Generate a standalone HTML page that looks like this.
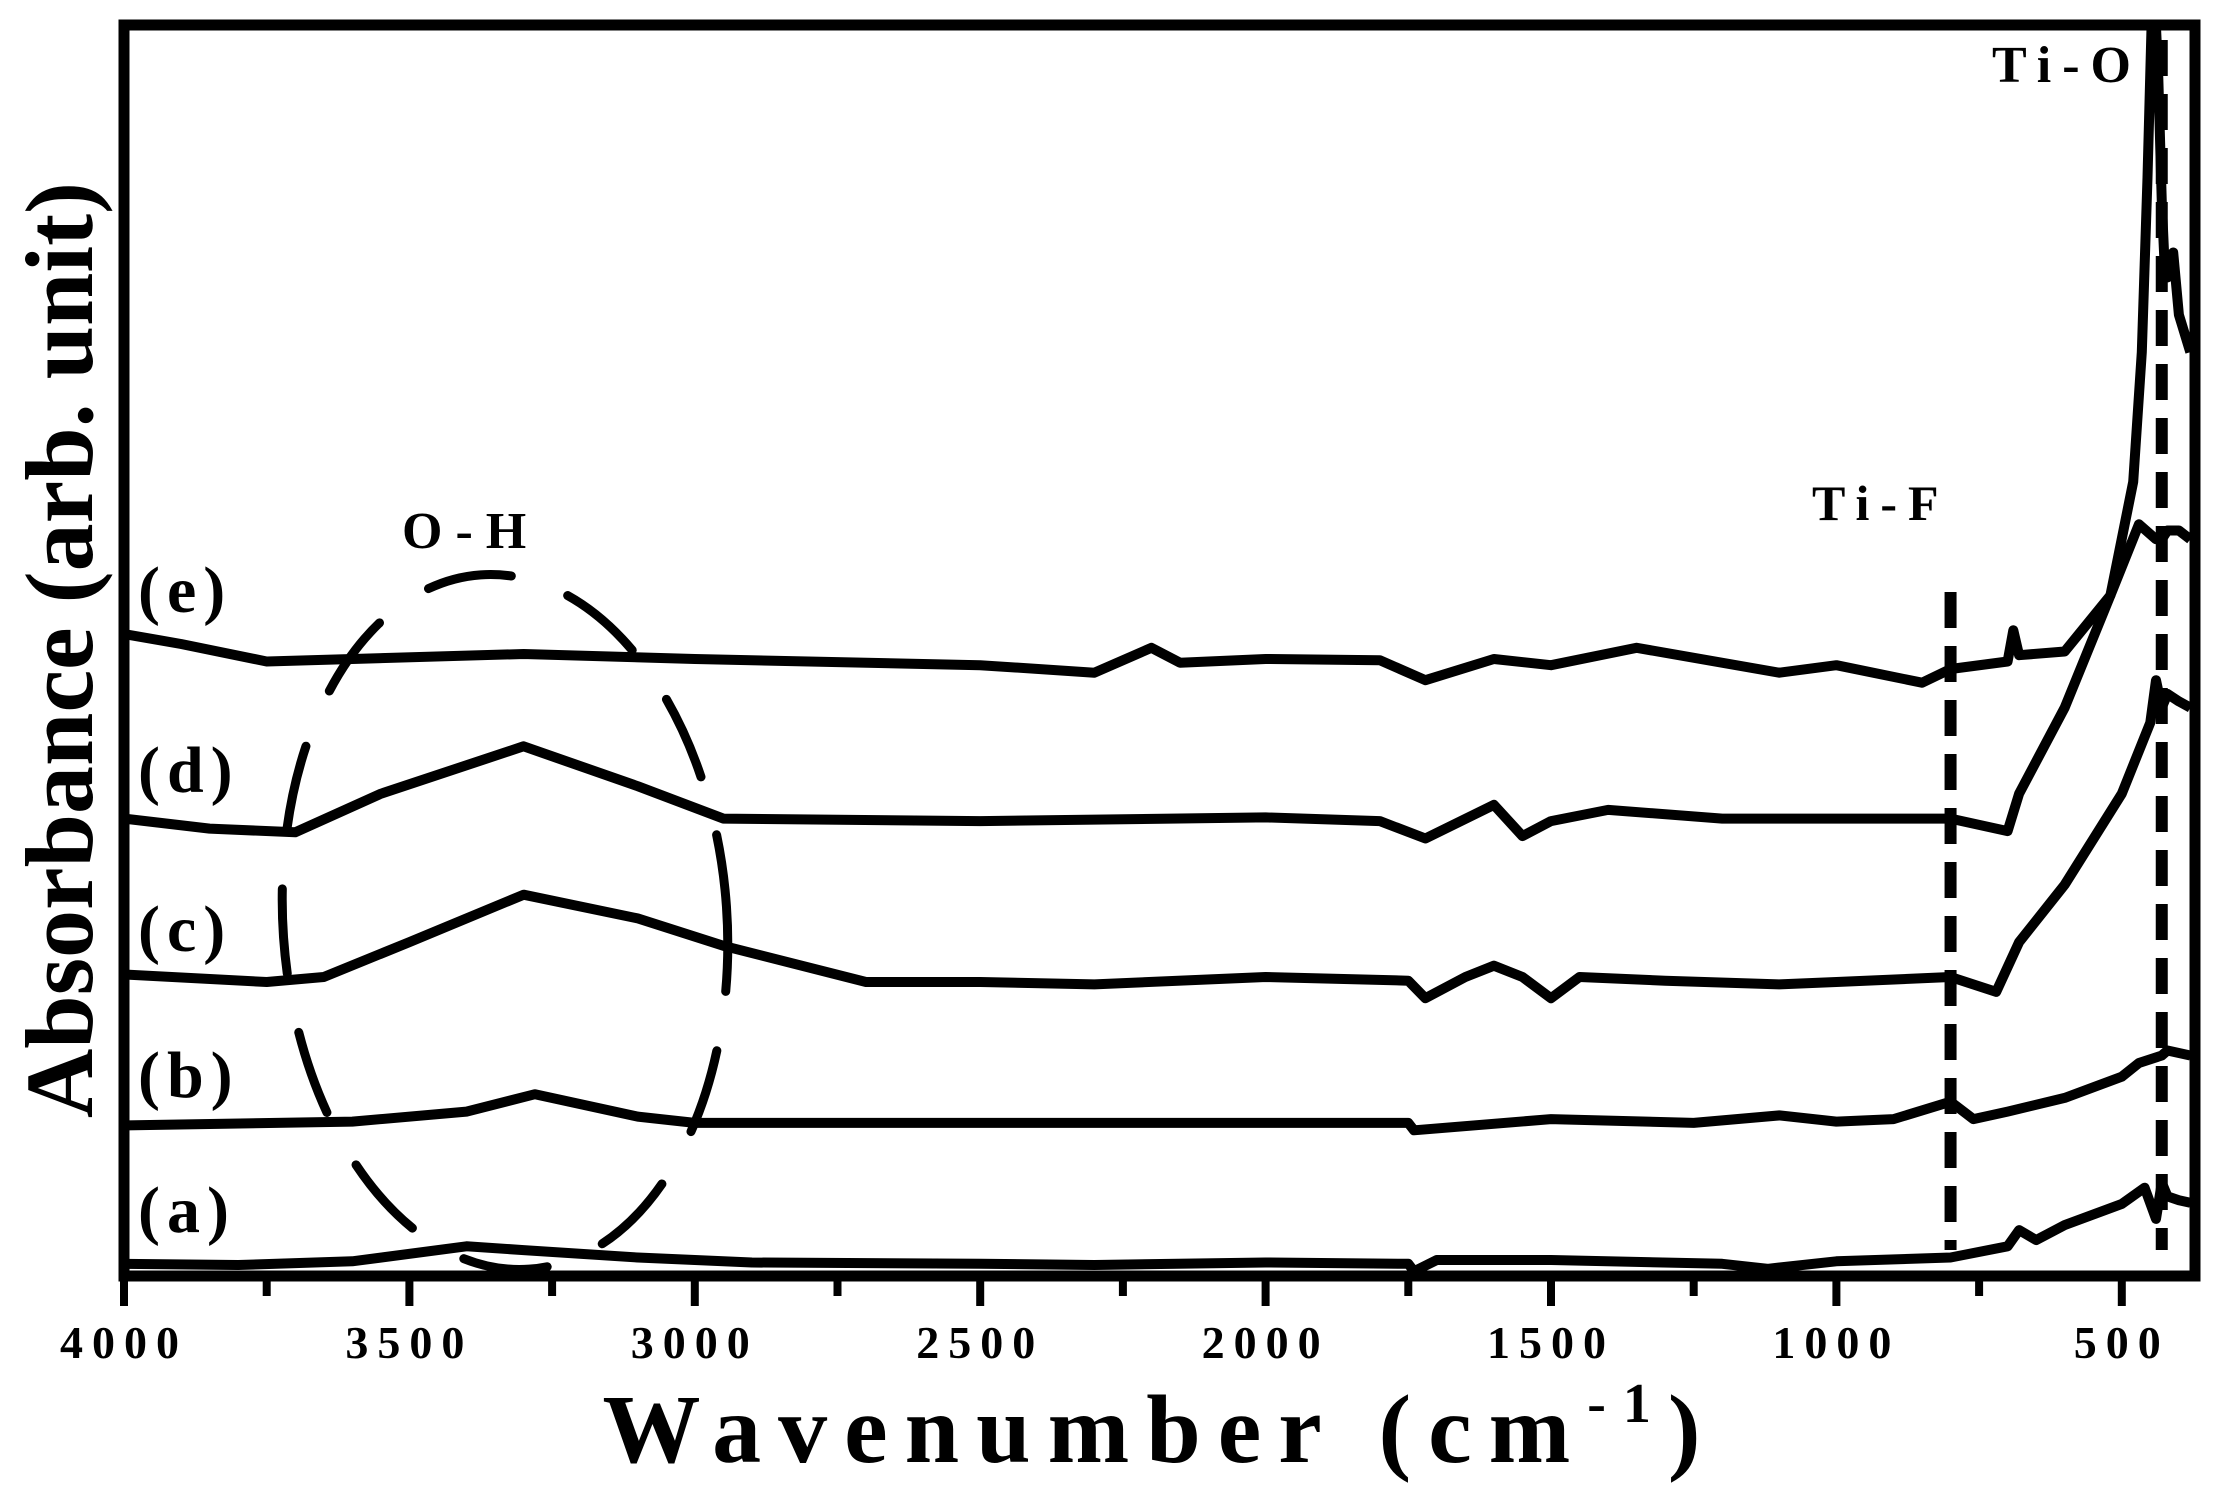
<!DOCTYPE html>
<html><head><meta charset="utf-8"><style>
html,body{margin:0;padding:0;background:#fff;}
svg{display:block;}
text{font-family:"Liberation Serif",serif;font-weight:bold;fill:#000;}
</style></head><body>
<svg id="chart" width="2222" height="1488" viewBox="0 0 2222 1488" xmlns="http://www.w3.org/2000/svg">
<defs><clipPath id="pc"><rect x="124" y="25" width="2071" height="1251"/></clipPath></defs>
<g id="curves" clip-path="url(#pc)"></g>
<g id="annot" clip-path="url(#pc)"></g>
<rect x="124" y="25" width="2071" height="1251" fill="none" stroke="#000" stroke-width="11"/>
<g id="axis"></g>
<text x="1160" y="1462" font-size="98" text-anchor="middle" letter-spacing="17">Wavenumber (cm<tspan dy="-40" font-size="56">-1</tspan><tspan dy="40">)</tspan></text>
<text transform="translate(92,650) rotate(-90)" font-size="96" text-anchor="middle">Absorbance (arb. unit)</text>
<text x="138" y="612" font-size="66" letter-spacing="7">(e)</text>
<text x="138" y="792" font-size="66" letter-spacing="7">(d)</text>
<text x="138" y="951" font-size="66" letter-spacing="7">(c)</text>
<text x="138" y="1097" font-size="66" letter-spacing="7">(b)</text>
<text x="138" y="1232" font-size="66" letter-spacing="7">(a)</text>
<text x="402" y="548" font-size="52" letter-spacing="13">O-H</text>
<text x="1812" y="520" font-size="50" letter-spacing="11">Ti-F</text>
<text x="1992" y="82" font-size="52" letter-spacing="11">Ti-O</text>
</svg>
<script>
// wavenumber positions (cm-1) and absorbance (arb.) per series
const waveA=[4000,3800,3600,3400,3300,3100,2900,2500,2300,2000,1750,1740,1700,1500,1200,1120,1000,800,700,680,650,600,500,460,440,430,420,400,380];
const absA=[0.009,0.008,0.011,0.023,0.020,0.014,0.010,0.009,0.008,0.010,0.009,0.003,0.012,0.012,0.009,0.005,0.011,0.014,0.023,0.036,0.028,0.040,0.057,0.070,0.045,0.074,0.063,0.060,0.058];
const waveB=[4000,3600,3400,3280,3100,3000,2500,2000,1750,1740,1500,1250,1100,1000,900,800,760,700,600,500,470,430,420,400,380];
const absB=[0.120,0.123,0.131,0.145,0.127,0.122,0.122,0.122,0.122,0.116,0.125,0.122,0.128,0.123,0.125,0.139,0.125,0.131,0.142,0.159,0.170,0.176,0.180,0.178,0.176];
const waveC=[4000,3750,3650,3500,3300,3100,2950,2700,2500,2300,2000,1750,1720,1650,1600,1550,1500,1450,1300,1100,1000,800,720,680,600,500,450,440,430,420,400,380];
const absC=[0.241,0.235,0.239,0.267,0.305,0.286,0.264,0.235,0.235,0.233,0.239,0.236,0.222,0.239,0.248,0.239,0.222,0.239,0.236,0.233,0.235,0.239,0.227,0.267,0.313,0.386,0.443,0.477,0.455,0.466,0.460,0.455];
const waveD=[4000,3850,3700,3550,3300,3100,2950,2500,2000,1800,1720,1600,1550,1500,1400,1200,1000,800,700,680,600,520,470,440,430,420,400,380];
const absD=[0.366,0.358,0.355,0.386,0.424,0.392,0.366,0.364,0.367,0.364,0.350,0.377,0.352,0.364,0.373,0.366,0.366,0.366,0.356,0.386,0.455,0.545,0.602,0.590,0.590,0.597,0.597,0.590];
const waveE=[4000,3900,3750,3600,3300,3000,2500,2300,2200,2150,2000,1800,1720,1600,1500,1350,1100,1000,850,800,700,690,680,600,520,480,465,455,448,442,436,430,425,420,410,400,380];
const absE=[0.514,0.506,0.492,0.494,0.498,0.494,0.489,0.483,0.503,0.491,0.494,0.493,0.477,0.494,0.489,0.503,0.483,0.489,0.475,0.486,0.492,0.517,0.497,0.500,0.545,0.636,0.740,0.880,1.00,1.02,0.96,0.86,0.81,0.80,0.82,0.77,0.74];
const seriesList=[['a',waveA,absA],['b',waveB,absB],['c',waveC,absC],['d',waveD,absD],['e',waveE,absE]];
const tickVals=[4000,3500,3000,2500,2000,1500,1000,500];
const minorVals=[3750,3250,2750,2250,1750,1250,750];
const markerLines=[800,430];

const NS='http://www.w3.org/2000/svg';
const X=w=>124+(4000-w)*0.5708;
const Y=a=>1275-a*1247;
const curves=document.getElementById('curves');
seriesList.forEach(s=>{
  const p=document.createElementNS(NS,'path');
  p.setAttribute('d',s[1].map((w,i)=>(i?'L':'M')+X(w).toFixed(1)+','+Y(s[2][i]).toFixed(1)).join(''));
  p.setAttribute('fill','none');p.setAttribute('stroke','#000');p.setAttribute('stroke-width','10');p.setAttribute('stroke-linejoin','round');
  
  
  curves.appendChild(p);
});
const annot=document.getElementById('annot');
markerLines.forEach((w,i)=>{
  const l=document.createElementNS(NS,'line');
  l.setAttribute('x1',X(w));l.setAttribute('x2',X(w));
  l.setAttribute('y1',i?40:592);l.setAttribute('y2',1250);
  l.setAttribute('stroke','#000');l.setAttribute('stroke-width','12');l.setAttribute('stroke-dasharray','36 18');
  
  
  annot.appendChild(l);
});
const el=document.createElementNS(NS,'ellipse');
el.setAttribute('cx','505');el.setAttribute('cy','922');el.setAttribute('rx','222');el.setAttribute('ry','348');
el.setAttribute('transform','rotate(-4 505 922)');
el.setAttribute('fill','none');el.setAttribute('stroke','#000');el.setAttribute('stroke-width','9');el.setAttribute('stroke-dasharray','85 60');el.setAttribute('stroke-linecap','round');


annot.appendChild(el);
const axis=document.getElementById('axis');
tickVals.forEach(v=>{
  const t=document.createElementNS(NS,'line');
  t.setAttribute('x1',X(v));t.setAttribute('x2',X(v));t.setAttribute('y1',1276);t.setAttribute('y2',1306);
  t.setAttribute('stroke','#000');t.setAttribute('stroke-width','8');
  
  
  axis.appendChild(t);
  const tx=document.createElementNS(NS,'text');
  tx.setAttribute('x',X(v));tx.setAttribute('y',1358);tx.setAttribute('font-size','46');tx.setAttribute('text-anchor','middle');tx.setAttribute('letter-spacing','9');
  tx.textContent=v;
  
  
  axis.appendChild(tx);
});
minorVals.forEach(v=>{
  const t=document.createElementNS(NS,'line');
  t.setAttribute('x1',X(v));t.setAttribute('x2',X(v));t.setAttribute('y1',1276);t.setAttribute('y2',1296);
  t.setAttribute('stroke','#000');t.setAttribute('stroke-width','8');
  
  
  axis.appendChild(t);
});
</script>
</body></html>
